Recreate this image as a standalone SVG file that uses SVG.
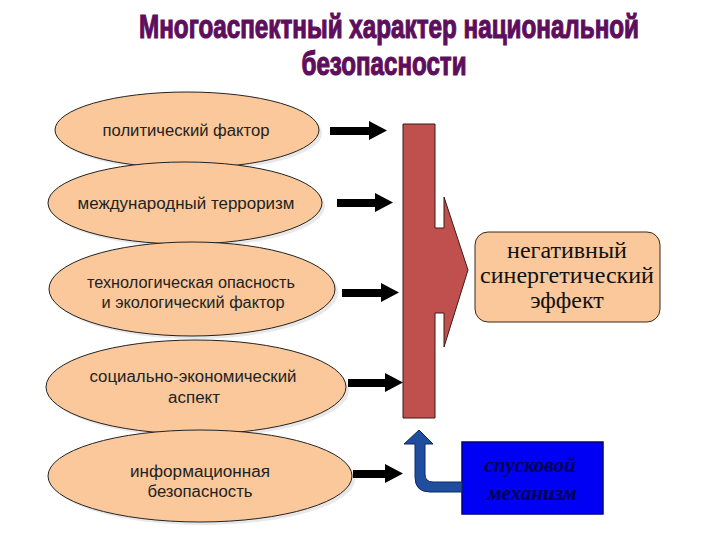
<svg xmlns="http://www.w3.org/2000/svg" width="720" height="540" viewBox="0 0 720 540">
<defs>
<style>
.title{font-family:"Liberation Sans Narrow","Liberation Sans",Arial,sans-serif;font-weight:bold;font-size:34px;fill:#5E0E5C;stroke:#5E0E5C;stroke-width:1.2;text-anchor:middle}
.ell{fill:#FAC89A;stroke:#222;stroke-width:1}
.sh{fill:#d9d9d9;opacity:0.6}
.lbl{font-family:"Liberation Sans",Arial,sans-serif;font-size:16px;fill:#222;text-anchor:middle}
.res{font-family:"Liberation Serif","Times New Roman",serif;font-size:24px;fill:#111;text-anchor:middle}
.trig{font-family:"Liberation Serif","Times New Roman",serif;font-size:21px;font-style:italic;font-weight:bold;fill:#000050;text-anchor:middle}
.blk{fill:#000}
</style>
</defs>
<rect width="720" height="540" fill="#fff"/>
<g id="title">
<text class="title" x="389" y="38" textLength="500" lengthAdjust="spacingAndGlyphs">Многоаспектный характер национальной</text>
<text class="title" x="384" y="75" textLength="165" lengthAdjust="spacingAndGlyphs">безопасности</text>
</g>
<g id="node1">
<ellipse class="sh" cx="190" cy="133" rx="132" ry="38"/>
<ellipse class="ell" cx="187" cy="130" rx="132" ry="38"/>
<text class="lbl" x="186" y="136" textLength="167" lengthAdjust="spacingAndGlyphs">политический фактор</text>
</g>
<g id="node2">
<ellipse class="sh" cx="188" cy="206" rx="137" ry="41"/>
<ellipse class="ell" cx="185" cy="203" rx="137" ry="41"/>
<text class="lbl" x="186" y="209" textLength="217" lengthAdjust="spacingAndGlyphs">международный терроризм</text>
</g>
<g id="node3">
<ellipse class="sh" cx="195" cy="292" rx="143" ry="47"/>
<ellipse class="ell" cx="192" cy="289" rx="143" ry="47"/>
<text class="lbl" x="191" y="288" textLength="208" lengthAdjust="spacingAndGlyphs">технологическая опасность</text>
<text class="lbl" x="193" y="308" textLength="183" lengthAdjust="spacingAndGlyphs">и экологический фактор</text>
</g>
<g id="node4">
<ellipse class="sh" cx="199" cy="390" rx="150" ry="47"/>
<ellipse class="ell" cx="196" cy="387" rx="150" ry="47"/>
<text class="lbl" x="193" y="382" textLength="207" lengthAdjust="spacingAndGlyphs">социально-экономический</text>
<text class="lbl" x="194" y="403" textLength="52" lengthAdjust="spacingAndGlyphs">аспект</text>
</g>
<g id="node5">
<ellipse class="sh" cx="203" cy="479" rx="152" ry="46"/>
<ellipse class="ell" cx="200" cy="476" rx="152" ry="46"/>
<text class="lbl" x="200" y="477" textLength="140" lengthAdjust="spacingAndGlyphs">информационная</text>
<text class="lbl" x="200" y="497" textLength="105" lengthAdjust="spacingAndGlyphs">безопасность</text>
</g>
<g id="bar">
<path d="M403,124 L435,124 L435,228 L444,228 L444,197 L468,270 L444,347 L444,313 L435,313 L435,418 L403,418 Z" fill="#C0504D" stroke="#3a1a1a" stroke-width="1"/>
</g>
<g id="result">
<rect x="475" y="232" width="185" height="90" rx="13" fill="#FAC89A" stroke="#3a2a1a" stroke-width="1"/>
<text class="res" x="567" y="258">негативный</text>
<text class="res" x="567" y="283">синергетический</text>
<text class="res" x="567" y="308">эффект</text>
</g>
<g id="trigger">
<rect x="462" y="442" width="141" height="72" fill="#0000F5" stroke="#000080" stroke-width="1.5"/>
<text class="trig" x="530" y="472">спусковой</text>
<text class="trig" x="532" y="500">механизм</text>
</g>
<g id="connectors">
<path class="blk" d="M330,127 L369,127 L369,121 L387,130.5 L369,140 L369,135 L330,135 Z"/>
<path class="blk" d="M337,199 L375,199 L375,193 L393,202.5 L375,212 L375,207 L337,207 Z"/>
<path class="blk" d="M342,289 L381,289 L381,283 L399,292.5 L381,302 L381,297 L342,297 Z"/>
<path class="blk" d="M348,379 L385,379 L385,373 L403,382.5 L385,392 L385,387 L348,387 Z"/>
<path class="blk" d="M353,470 L385,470 L385,464 L403,473.5 L385,483 L385,478 L353,478 Z"/>
<path d="M419,430 L433,444 L425,444 L425,474 Q425,482 433,482 L462,482 L462,492 L430,492 Q415,492 415,477 L415,444 L404,444 Z" fill="#1F4E9E" stroke="#0d2a66" stroke-width="1"/>
</g>
</svg>
